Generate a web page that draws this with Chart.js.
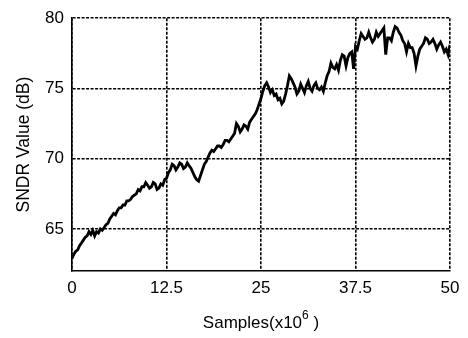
<!DOCTYPE html>
<html>
<head>
<meta charset="utf-8">
<script src="https://cdn.jsdelivr.net/npm/chart.js@4"></script>
<style>
  html, body { margin: 0; padding: 0; background: #fff; }
  #wrap { width: 468px; height: 338px; }
</style>
</head>
<body>
<div id="wrap"><canvas id="sndrChart" width="468" height="338"></canvas></div>
<script>
// samples in units of 10^6, one reading every 0.25
const sampleStep = 0.25;
const sndrValues = [
  62.9, 63.2, 63.4, 63.5, 63.8, 64.0, 64.2, 64.4, 64.5, 64.8,
  64.6, 64.9, 64.5, 64.8, 64.7, 65.0, 64.9, 65.1, 65.3, 65.4,
  65.7, 65.9, 66.1, 66.0, 66.3, 66.5, 66.5, 66.7, 66.7, 67.0,
  67.0, 67.1, 67.3, 67.4, 67.5, 67.8, 67.7, 68.0, 68.0, 68.3,
  68.1, 67.9, 68.0, 68.3, 68.2, 67.8, 67.9, 68.2, 68.1, 68.5,
  68.6, 69.0, 69.2, 69.6, 69.5, 69.2, 69.4, 69.7, 69.6, 69.3,
  69.4, 69.7, 69.5, 69.3, 69.0, 68.7, 68.5, 68.4, 68.8, 69.2,
  69.6, 69.8, 70.1, 70.4, 70.6, 70.5, 70.7, 70.9, 70.9, 70.8,
  71.0, 71.3, 71.3, 71.2, 71.4, 71.6, 71.8, 72.5, 72.3, 71.9,
  72.1, 72.4, 72.3, 72.1, 72.6, 72.8, 73.0, 73.2, 73.5, 73.9,
  74.3, 74.8, 75.2, 75.4, 75.1, 74.7, 74.9, 74.5, 74.6, 74.2,
  74.3, 73.9, 74.1, 74.6, 75.2, 75.9, 75.7, 75.4, 75.1, 74.6,
  74.8, 75.3, 75.0, 74.7, 75.2, 75.5, 75.0, 74.8, 75.2, 75.4,
  75.0, 74.9, 75.1, 74.8, 75.4, 75.9, 76.2, 76.8, 76.5, 76.4,
  76.7, 76.3, 77.0, 77.4, 77.3, 76.6, 77.2, 77.5, 77.6, 76.4,
  78.0, 77.8, 78.4, 78.9, 78.7, 78.5, 78.6, 79.0, 78.6, 78.3,
  78.5, 79.0, 78.7, 78.9, 79.1, 79.3, 77.4, 78.6, 78.6, 78.4,
  79.0, 79.4, 79.3, 79.0, 78.8, 78.4, 78.2, 77.6, 78.2, 77.9,
  77.9, 77.5, 76.6, 77.3, 77.8, 78.0, 78.2, 78.6, 78.5, 78.2,
  78.3, 78.5, 78.2, 77.8, 78.1, 78.3, 78.0, 77.6, 77.8, 77.4,
  78.1
];
const xTicks = [0, 12.5, 25, 37.5, 50];
const yTicks = [65, 70, 75, 80];

const points = sndrValues.map(function(v, i) {
  return { x: i * sampleStep, y: v };
});

const fontFamily = '"Liberation Sans", Arial, sans-serif';
const dotted = [3, 1.5];

// x axis title with a real raised exponent
const xTitlePlugin = {
  id: 'xTitle',
  afterDraw: function(chart) {
    const ctx = chart.ctx;
    const area = chart.chartArea;
    const base = 'Samples(x10';
    const exp = '6';
    const tail = ' )';
    ctx.save();
    ctx.fillStyle = '#000';
    ctx.textBaseline = 'alphabetic';
    ctx.font = '17px ' + fontFamily;
    const wBase = ctx.measureText(base).width;
    const wTail = ctx.measureText(tail).width;
    ctx.font = '12px ' + fontFamily;
    const wExp = ctx.measureText(exp).width;
    const total = wBase + wExp + wTail;
    let x = (area.left + area.right) / 2 - total / 2;
    const y = 328;
    ctx.font = '17px ' + fontFamily;
    ctx.fillText(base, x, y);
    x += wBase;
    ctx.font = '12px ' + fontFamily;
    ctx.fillText(exp, x, y - 9);
    x += wExp;
    ctx.font = '17px ' + fontFamily;
    ctx.fillText(tail, x, y);
    ctx.restore();
  }
};

new Chart(document.getElementById('sndrChart').getContext('2d'), {
  type: 'line',
  data: {
    datasets: [{
      label: 'SNDR',
      data: points,
      borderColor: '#000',
      borderWidth: 2.8,
      pointRadius: 0,
      tension: 0,
      fill: false
    }]
  },
  options: {
    responsive: false,
    animation: false,
    layout: { padding: { top: 8, right: 18, left: 0, bottom: 0 } },
    plugins: {
      legend: { display: false },
      tooltip: { enabled: false }
    },
    scales: {
      x: {
        type: 'linear',
        min: 0,
        max: 50,
        afterBuildTicks: function(axis) {
          axis.ticks = xTicks.map(function(v) { return { value: v }; });
        },
        afterFit: function(axis) { axis.height = 67; },
        ticks: {
          color: '#000',
          font: { family: fontFamily, size: 17 },
          padding: 7,
          maxRotation: 0,
          callback: function(v) { return String(v); }
        },
        grid: { color: '#000', lineWidth: 1.6, drawTicks: false },
        border: { color: '#000', width: 1.6, dash: dotted }
      },
      y: {
        min: 62,
        max: 80,
        afterBuildTicks: function(axis) {
          axis.ticks = yTicks.map(function(v) { return { value: v }; });
        },
        afterFit: function(axis) { axis.width = 72; },
        ticks: {
          color: '#000',
          font: { family: fontFamily, size: 17 },
          padding: 8
        },
        grid: { color: '#000', lineWidth: 1.6, drawTicks: false },
        border: { color: '#000', width: 1.6, dash: dotted },
        title: {
          display: true,
          text: 'SNDR Value (dB)',
          color: '#000',
          font: { family: fontFamily, size: 17.5 },
          padding: { top: 14, bottom: 0 }
        }
      }
    }
  },
  plugins: [xTitlePlugin]
});
</script>
</body>
</html>
